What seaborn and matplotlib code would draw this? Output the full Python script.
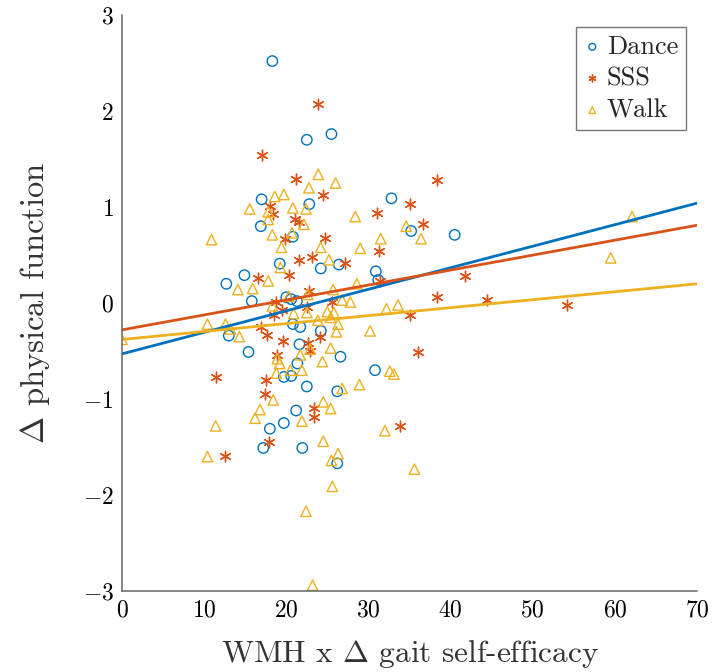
import numpy as np
import pandas as pd
import matplotlib
matplotlib.use("Agg")
import matplotlib.pyplot as plt
import seaborn as sns

# values (x = WMH x gait self-efficacy, y = change in physical function)
dance_x = [18.3, 22.5, 25.5, 17.0, 22.8, 16.9, 20.8, 19.2, 24.2, 26.4, 14.9, 12.7, 15.8, 20.0,
           20.6, 21.3, 20.8, 21.7, 13.0, 24.2, 21.6, 15.4, 26.6, 21.35, 19.7, 20.6, 22.5, 26.2,
           21.2, 19.7, 18.0, 17.2, 21.95, 26.2, 32.8, 35.2, 40.5, 30.9, 31.2, 30.8]
dance_y = [2.52, 1.70, 1.76, 1.08, 1.03, 0.80, 0.69, 0.41, 0.36, 0.40, 0.29, 0.20, 0.02, 0.06,
           0.04, 0.02, -0.22, -0.25, -0.34, -0.29, -0.43, -0.51, -0.56, -0.63, -0.77, -0.76, -0.87, -0.92,
           -1.12, -1.25, -1.31, -1.51, -1.51, -1.67, 1.09, 0.75, 0.71, 0.33, 0.24, -0.70]

sss_x = [23.86, 17.05, 21.2, 24.5, 18.0, 18.4, 21.0, 21.5, 19.85, 24.7, 21.6, 23.1, 27.1, 20.3,
         16.6, 22.8, 25.6, 18.7, 19.5, 22.5, 18.5, 16.9, 17.6, 24.1, 19.55, 22.7, 18.9, 22.9,
         11.4, 17.5, 17.4, 23.4, 23.4, 17.9, 12.5, 38.4, 35.1, 31.1, 36.7, 31.3, 31.35, 41.8,
         38.4, 44.4, 35.1, 36.0, 33.9, 54.2]
sss_y = [2.07, 1.54, 1.29, 1.13, 1.01, 0.93, 0.87, 0.84, 0.67, 0.68, 0.45, 0.48, 0.42, 0.29,
         0.26, 0.12, 0.01, 0.01, -0.07, -0.04, -0.13, -0.25, -0.33, -0.35, -0.40, -0.42, -0.54, -0.50,
         -0.77, -0.80, -0.95, -1.09, -1.19, -1.45, -1.59, 1.28, 1.03, 0.94, 0.82, 0.54, 0.23, 0.28,
         0.06, 0.03, -0.13, -0.51, -1.28, -0.02]

walk_x = [23.9, 22.76, 26.0, 18.6, 19.7, 15.55, 20.8, 22.4, 17.8, 17.8, 22.15, 18.3, 20.7, 10.9,
          19.4, 24.2, 25.2, 19.3, 17.8, 14.1, 15.9, 20.3, 22.6, 25.7, 26.8, 18.3, 20.9, 22.5,
          25.0, 25.8, 25.4, 23.85, 26.3, 10.4, 12.6, 13.2, 14.3, 26.1, 0.0, 21.7, 22.9, 25.4,
          24.4, 19.2, 18.8, 20.5, 21.9, 26.8, 18.4, 24.5, 25.4, 16.8, 16.2, 21.9, 11.4, 24.5,
          10.4, 25.5, 26.3, 25.6, 22.4, 23.2, 28.4, 34.6, 36.4, 31.5, 29.0, 28.6, 27.8, 32.2,
          33.6, 30.2, 32.6, 33.1, 28.9, 32.0, 35.6, 62.1, 59.5, 18.9]
walk_y = [1.34, 1.20, 1.25, 1.11, 1.13, 0.98, 0.99, 0.98, 0.95, 0.87, 0.82, 0.71, 0.73, 0.66,
          0.58, 0.58, 0.45, 0.37, 0.23, 0.14, 0.15, 0.07, 0.09, 0.14, 0.03, -0.03, -0.11, -0.10,
          -0.09, -0.10, -0.15, -0.18, -0.22, -0.22, -0.22, -0.27, -0.35, -0.30, -0.38, -0.54, -0.48, -0.47,
          -0.61, -0.63, -0.73, -0.70, -0.70, -0.89, -1.01, -1.03, -1.10, -1.11, -1.20, -1.23, -1.28, -1.44,
          -1.60, -1.64, -1.57, -1.91, -2.17, -2.94, 0.90, 0.80, 0.67, 0.67, 0.57, 0.20, 0.01, -0.06,
          -0.02, -0.29, -0.71, -0.74, -0.85, -1.33, -1.73, 0.90, 0.47, -0.58]

# fitted lines, end points
fit_x = [0, 70]
dance_fit = [-0.53, 1.04]
sss_fit = [-0.28, 0.81]
walk_fit = [-0.38, 0.20]

groups = ["Dance", "SSS", "Walk"]
colors = {"Dance": "#0072BD", "SSS": "#D95319", "Walk": "#EDB120"}

pts = pd.concat([
    pd.DataFrame({"x": dance_x, "y": dance_y, "group": "Dance"}),
    pd.DataFrame({"x": sss_x, "y": sss_y, "group": "SSS"}),
    pd.DataFrame({"x": walk_x, "y": walk_y, "group": "Walk"}),
], ignore_index=True)
fits = pd.concat([
    pd.DataFrame({"x": fit_x, "y": dance_fit, "group": "Dance"}),
    pd.DataFrame({"x": fit_x, "y": sss_fit, "group": "SSS"}),
    pd.DataFrame({"x": fit_x, "y": walk_fit, "group": "Walk"}),
], ignore_index=True)

sns.set_style("white")
plt.rcParams["font.family"] = "serif"
plt.rcParams["font.serif"] = ["cmr10"]
plt.rcParams["mathtext.fontset"] = "cm"
plt.rcParams["axes.formatter.use_mathtext"] = True

fig = plt.figure(figsize=(7.12, 6.72), dpi=100)
ax = fig.add_axes([122 / 712, 1 - 591 / 672, 575 / 712, 576 / 672])

for g in groups:
    d = pts[pts.group == g]
    col = colors[g]
    if g == "SSS":
        sns.scatterplot(x=d.x, y=d.y, ax=ax, marker=(6, 2, 0), s=58, color=col,
                        linewidth=1.0, label=g)
    else:
        sns.scatterplot(x=d.x, y=d.y, ax=ax, marker="o" if g == "Dance" else "^", s=56,
                        color=col, facecolor="none", edgecolor=col, linewidth=1.0, label=g)

for g in groups:
    d = fits[fits.group == g]
    sns.lineplot(x=d.x, y=d.y, ax=ax, color=colors[g], linewidth=2.0, legend=False)

ax.set_xlim(0, 70)
ax.set_ylim(-3, 3)
ax.set_xticks(np.arange(0, 71, 10))
ax.set_yticks(np.arange(-3, 4, 1))
ax.tick_params(direction="in", length=8, width=0.9, color="#8a8a8a", labelsize=17,
               labelcolor="black", pad=6)
for s in ["top", "right"]:
    ax.spines[s].set_visible(False)
for s in ["left", "bottom"]:
    ax.spines[s].set_color("#666666")
    ax.spines[s].set_linewidth(1.1)

ax.set_xlabel(r"WMH x $\Delta$ gait self-efficacy", fontsize=22.5, color="#333333", labelpad=12)
ax.set_ylabel(r"$\Delta$ physical function", fontsize=23.5, color="#333333", labelpad=22)

leg = ax.legend(loc="upper right", bbox_to_anchor=(0.981, 0.979), borderaxespad=0,
                fontsize=19, frameon=True, fancybox=False, markerscale=0.65,
                handlelength=0.6, handletextpad=0.25, borderpad=0.3, labelspacing=0.3)
leg.get_frame().set_edgecolor("#555555")
leg.get_frame().set_linewidth(1.0)

fig.savefig("out.png", dpi=100)
